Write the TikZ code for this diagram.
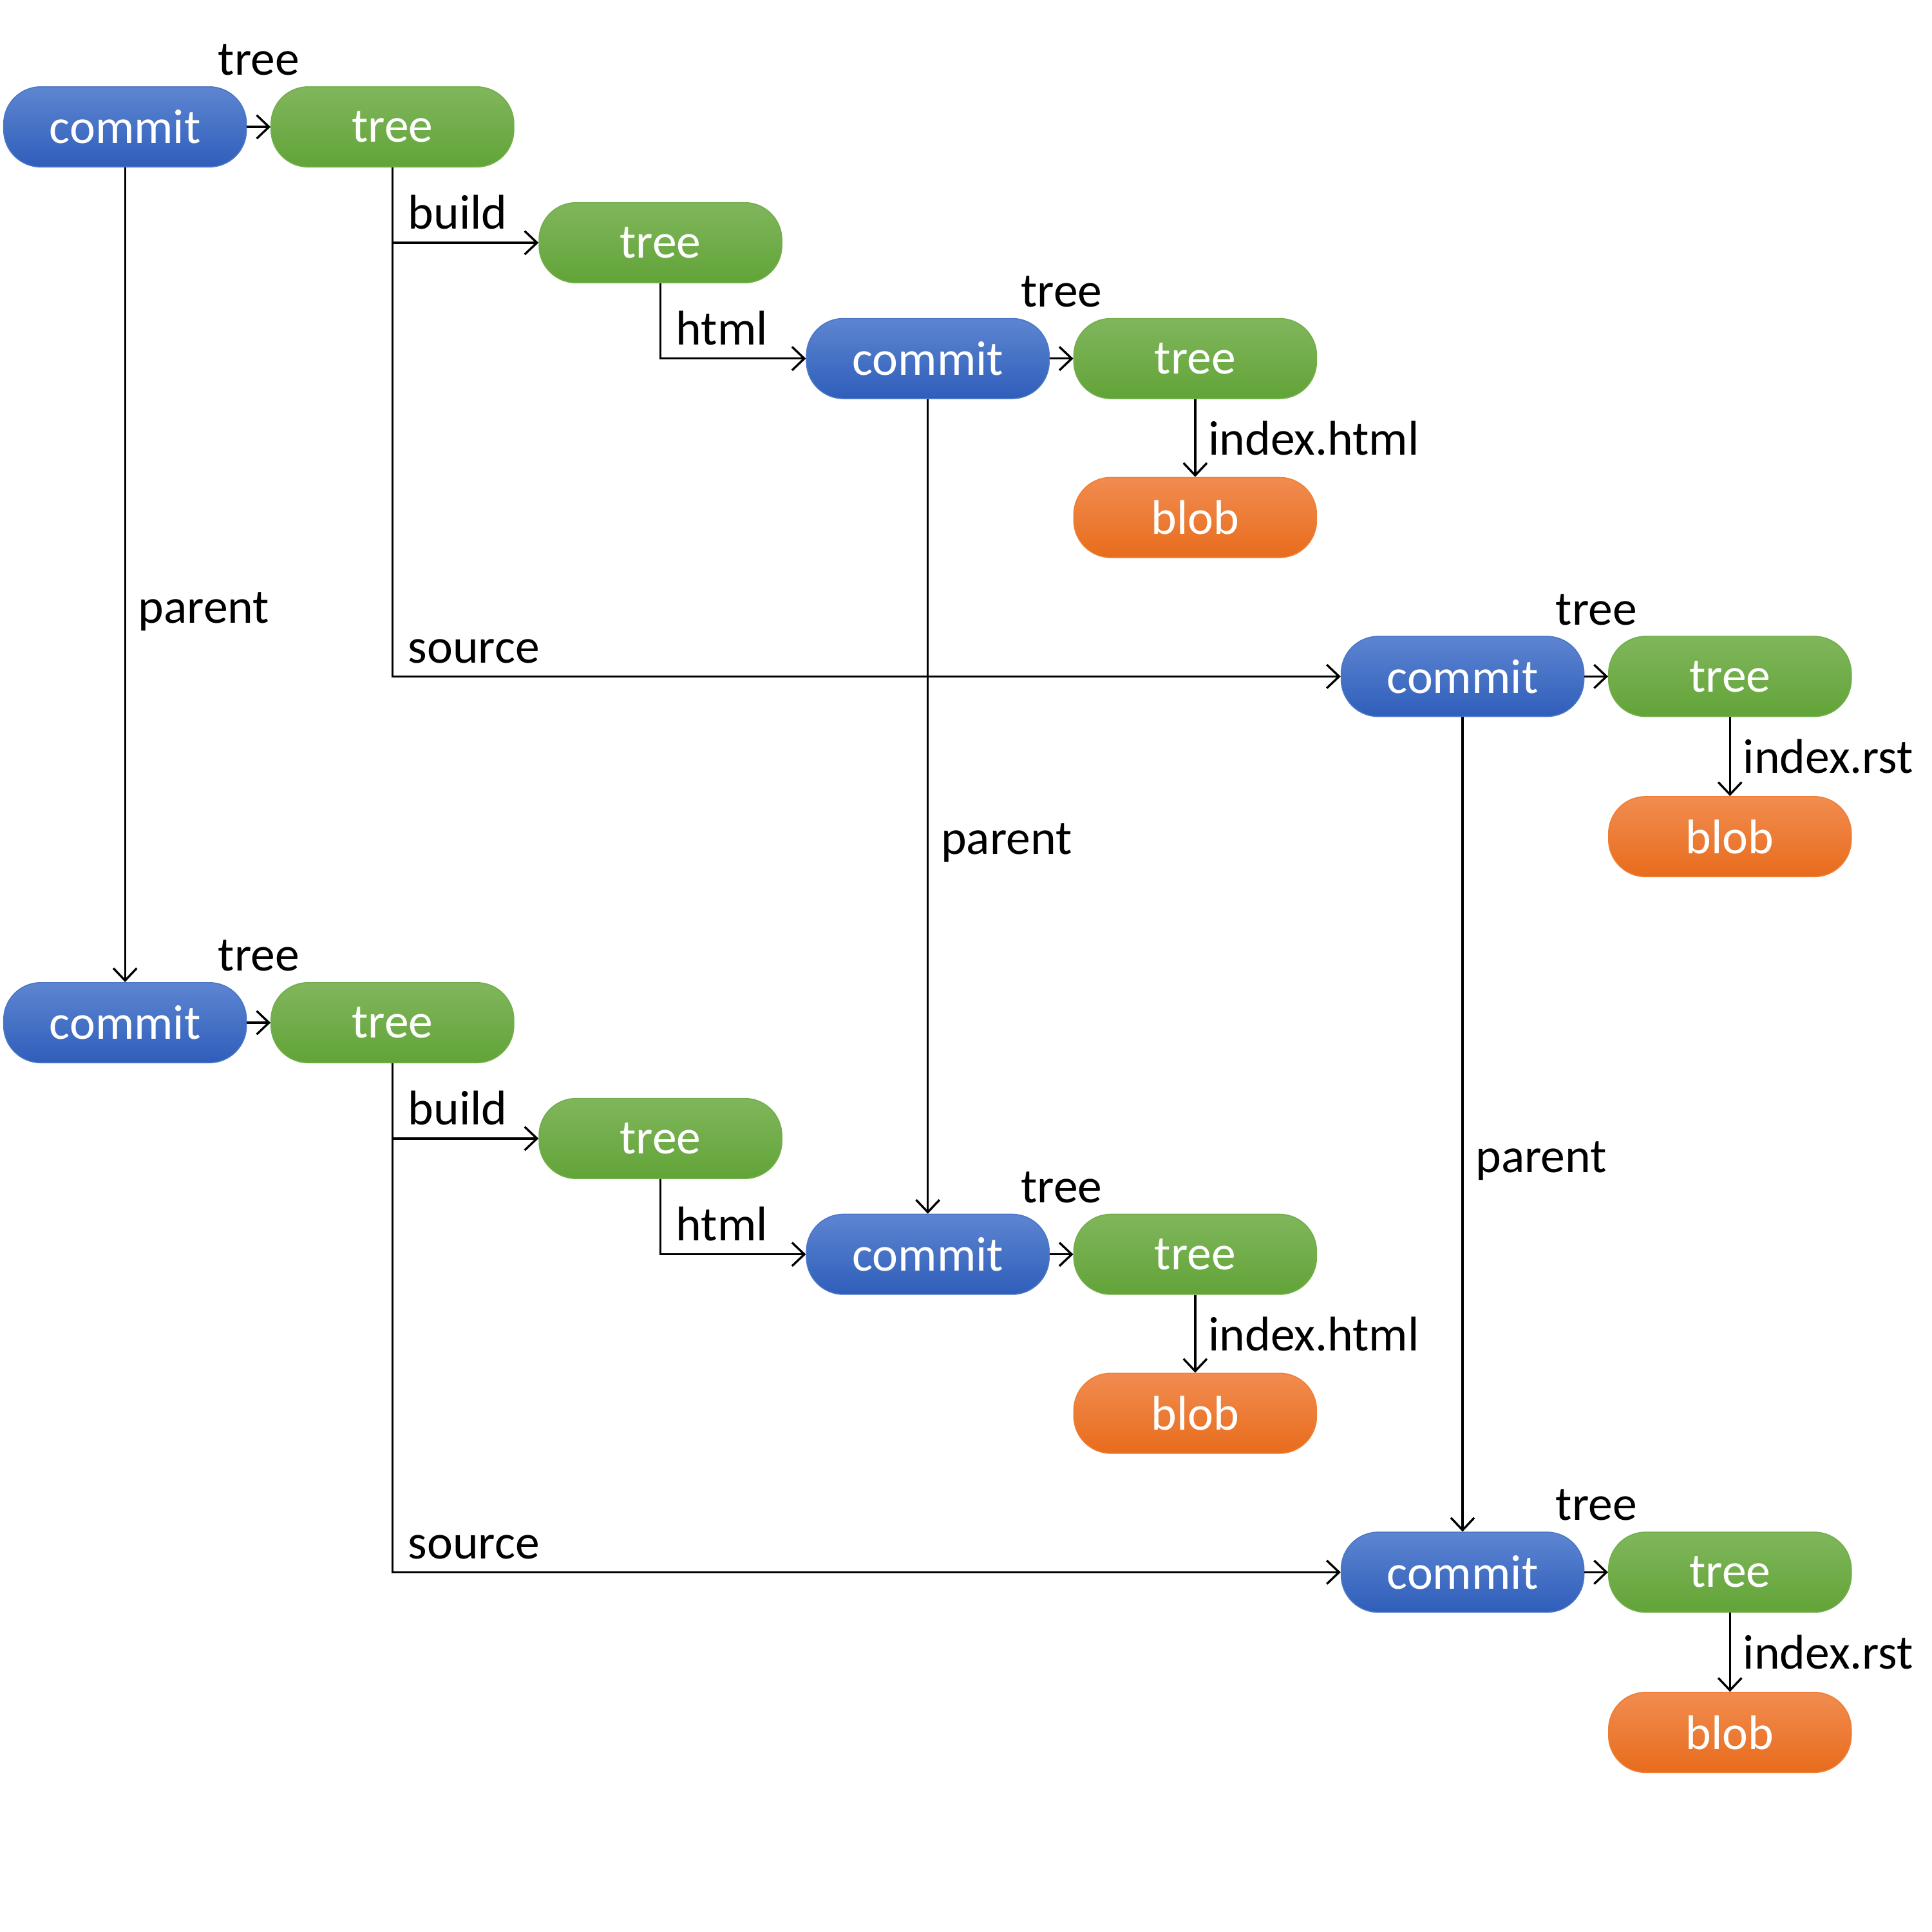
\documentclass[tikz,border=0pt]{standalone}
\usepackage{fontspec}
\setmainfont{Carlito}
\usepackage{tikz}
\usetikzlibrary{arrows.meta}

\definecolor{commitTop}{HTML}{5D85D1}
\definecolor{commitBot}{HTML}{2F5EBA}
\definecolor{commitLine}{HTML}{4A76C8}
\definecolor{treeTop}{HTML}{80B65C}
\definecolor{treeBot}{HTML}{62A438}
\definecolor{treeLine}{HTML}{72AE4A}
\definecolor{blobTop}{HTML}{F18C50}
\definecolor{blobBot}{HTML}{E86C1C}
\definecolor{blobLine}{HTML}{EE7F36}

\newcommand{\objfont}{\fontsize{22.5}{27}\selectfont}

\tikzset{
  obj/.style={rounded corners=0.6cm, minimum width=3.94cm, minimum height=1.3cm,
    text=white, line width=0.5pt, font=\objfont},
  commitnode/.style={obj, draw=commitLine, top color=commitTop, bottom color=commitBot},
  treenode/.style={obj, draw=treeLine, top color=treeTop, bottom color=treeBot},
  blobnode/.style={obj, draw=blobLine, top color=blobTop, bottom color=blobBot},
  lbl/.style={font=\objfont, text=black},
  cornerlbl/.style={lbl, pos=0.5, above right, xshift=0.12cm, yshift=0.08cm},
  sidelbl/.style={lbl, right, xshift=0.08cm},
  ref/.style={-{Straight Barb[length=0.2cm,width=0.38cm,line width=1pt]}, line width=1pt}
}

\begin{document}
\begin{tikzpicture}[x=0.02cm,y=-0.02cm]
   \useasboundingbox (0,0) rectangle (1568,1568);

   % first snapshot
   \draw (101.5,103) node[commitnode] (c1) {commit};
   \draw (318.5,103) node[treenode] (t1) {tree};
   \draw (536,197) node[treenode] (tb1) {tree};
   \draw (753,291) node[commitnode] (ch1) {commit};
   \draw (970,291) node[treenode] (th1) {tree};
   \draw (970,420) node[blobnode] (bh1) {blob};
   \draw (1187,549) node[commitnode] (cs1) {commit};
   \draw (1404,549) node[treenode] (ts1) {tree};
   \draw (1404,679) node[blobnode] (bs1) {blob};

   % second snapshot
   \draw (101.5,830) node[commitnode] (c2) {commit};
   \draw (318.5,830) node[treenode] (t2) {tree};
   \draw (536,924) node[treenode] (tb2) {tree};
   \draw (753,1018) node[commitnode] (ch2) {commit};
   \draw (970,1018) node[treenode] (th2) {tree};
   \draw (970,1147) node[blobnode] (bh2) {blob};
   \draw (1187,1276) node[commitnode] (cs2) {commit};
   \draw (1404,1276) node[treenode] (ts2) {tree};
   \draw (1404,1406) node[blobnode] (bs2) {blob};

   \path[ref] (c1) edge node[lbl, above=0.7cm] {tree} (t1);
   \draw[ref] (t1) |- node[cornerlbl] {build} (tb1);
   \draw[ref] (tb1) |- node[cornerlbl] {html} (ch1);
   \path[ref] (ch1) edge node[lbl, above=0.7cm] {tree} (th1);
   \path[ref] (th1) edge node[sidelbl] {index.html} (bh1);
   \draw[ref] (t1) |- node[cornerlbl] {source} (cs1);
   \path[ref] (cs1) edge node[lbl, above=0.7cm] {tree} (ts1);
   \path[ref] (ts1) edge node[sidelbl] {index.rst} (bs1);

   \path[ref] (c2) edge node[lbl, above=0.7cm] {tree} (t2);
   \draw[ref] (t2) |- node[cornerlbl] {build} (tb2);
   \draw[ref] (tb2) |- node[cornerlbl] {html} (ch2);
   \path[ref] (ch2) edge node[lbl, above=0.7cm] {tree} (th2);
   \path[ref] (th2) edge node[sidelbl] {index.html} (bh2);
   \draw[ref] (t2) |- node[cornerlbl] {source} (cs2);
   \path[ref] (cs2) edge node[lbl, above=0.7cm] {tree} (ts2);
   \path[ref] (ts2) edge node[sidelbl] {index.rst} (bs2);

   \path[ref] (c1) edge node[sidelbl, pos=0.545] {parent} (c2);
   \path[ref] (ch1) edge node[sidelbl, pos=0.545] {parent} (ch2);
   \path[ref] (cs1) edge node[sidelbl, pos=0.545] {parent} (cs2);
\end{tikzpicture}
\end{document}
